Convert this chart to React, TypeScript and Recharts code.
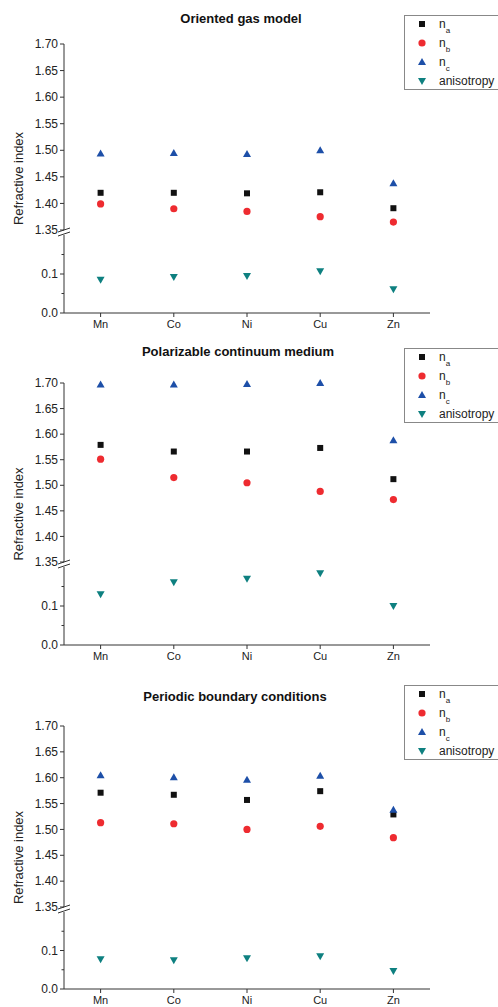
import React from 'react';
import { ScatterChart, Scatter, XAxis, YAxis } from 'recharts';

const categories = ['Mn', 'Co', 'Ni', 'Cu', 'Zn'];

const upperTicks = [1.35, 1.4, 1.45, 1.5, 1.55, 1.6, 1.65, 1.7];
const lowerTicks = [0, 0.05, 0.1, 0.15];
const lowerLabelled = [0, 0.1];

// Oriented gas model
const ogNa = [1.42, 1.42, 1.419, 1.421, 1.391];
const ogNb = [1.399, 1.39, 1.385, 1.375, 1.365];
const ogNc = [1.494, 1.495, 1.493, 1.5, 1.438];
const ogAniso = [0.085, 0.092, 0.095, 0.107, 0.061];

// Polarizable continuum medium
const pcmNa = [1.579, 1.566, 1.566, 1.573, 1.512];
const pcmNb = [1.551, 1.515, 1.505, 1.488, 1.472];
const pcmNc = [1.697, 1.697, 1.698, 1.7, 1.588];
const pcmAniso = [0.13, 0.161, 0.17, 0.184, 0.1];

// Periodic boundary conditions
const pbcNa = [1.571, 1.567, 1.557, 1.574, 1.529];
const pbcNb = [1.513, 1.511, 1.5, 1.506, 1.484];
const pbcNc = [1.605, 1.601, 1.596, 1.604, 1.538];
const pbcAniso = [0.077, 0.075, 0.08, 0.085, 0.047];

const COLORS = {
  na: '#111111',
  nb: '#ee2b30',
  nc: '#1d4fa8',
  aniso: '#0e8080',
};

const AXIS = '#333';
const W = 498;
const PH = 340;

type Kind = 'square' | 'circle' | 'up' | 'down';

function Marker({ kind, cx, cy, color }: { kind: Kind; cx: number; cy: number; color: string }) {
  if (kind === 'square') return <rect x={cx - 3} y={cy - 3} width={6} height={6} fill={color} />;
  if (kind === 'circle') return <circle cx={cx} cy={cy} r={3.6} fill={color} />;
  if (kind === 'up')
    return <polygon points={`${cx - 4},${cy + 3} ${cx + 4},${cy + 3} ${cx},${cy - 4}`} fill={color} />;
  return <polygon points={`${cx - 4},${cy - 3} ${cx + 4},${cy - 3} ${cx},${cy + 4}`} fill={color} />;
}

const shape = (kind: Kind, color: string) => (props: any) =>
  <Marker kind={kind} cx={props.cx} cy={props.cy} color={color} />;

const toRows = (vals: number[]) => vals.map((y, i) => ({ x: i, y }));

function UpperTick(props: any) {
  const { x, y, payload } = props;
  const ax = x + 6;
  const v = payload.value as number;
  return (
    <g>
      <line x1={ax - 4} y1={y} x2={ax} y2={y} stroke={AXIS} />
      <text x={x} y={y} dy="0.35em" textAnchor="end" fontSize={12} fill="#222">
        {v.toFixed(2)}
      </text>
      {v === 1.35 && (
        <g stroke={AXIS} strokeWidth={1}>
          <line x1={ax - 6} y1={y + 2} x2={ax + 6} y2={y - 2} />
          <line x1={ax - 6} y1={y + 6} x2={ax + 6} y2={y + 2} />
        </g>
      )}
    </g>
  );
}

function LowerTick(props: any) {
  const { x, y, payload } = props;
  const ax = x + 6;
  const v = payload.value as number;
  const major = lowerLabelled.includes(v);
  return (
    <g>
      <line x1={ax - (major ? 4 : 2.5)} y1={y} x2={ax} y2={y} stroke={AXIS} />
      {major && (
        <text x={x} y={y} dy="0.35em" textAnchor="end" fontSize={12} fill="#222">
          {v.toFixed(1)}
        </text>
      )}
    </g>
  );
}

interface PanelProps {
  top: number;
  title: string;
  titleX: number;
  titleY: number;
  upTop: number;
  upBottom: number;
  lowTop: number;
  lowBottom: number;
  legendTop: number;
  na: number[];
  nb: number[];
  nc: number[];
  aniso: number[];
}

const legendItems: { kind: Kind; color: string; main: string; sub?: string }[] = [
  { kind: 'square', color: COLORS.na, main: 'n', sub: 'a' },
  { kind: 'circle', color: COLORS.nb, main: 'n', sub: 'b' },
  { kind: 'up', color: COLORS.nc, main: 'n', sub: 'c' },
  { kind: 'down', color: COLORS.aniso, main: 'anisotropy' },
];

function Panel(p: PanelProps) {
  const xAxisProps = {
    type: 'number' as const,
    dataKey: 'x',
    domain: [-0.5, 4.5],
    ticks: [0, 1, 2, 3, 4],
    allowDataOverflow: true,
  };
  return (
    <div style={{ position: 'absolute', left: 0, top: p.top, width: W, height: PH }}>
      <div style={{ position: 'absolute', left: 0, top: 0 }}>
        <ScatterChart
          width={W}
          height={PH}
          margin={{ top: p.upTop, right: 68, bottom: PH - p.upBottom, left: 0 }}
        >
          <XAxis {...xAxisProps} hide />
          <YAxis
            type="number"
            dataKey="y"
            width={64}
            domain={[1.35, 1.7]}
            ticks={upperTicks}
            interval={0}
            tickSize={4}
            tickMargin={2}
            tickLine={false}
            axisLine={{ stroke: AXIS }}
            tick={<UpperTick />}
          />
          <Scatter data={toRows(p.na)} shape={shape('square', COLORS.na)} isAnimationActive={false} />
          <Scatter data={toRows(p.nb)} shape={shape('circle', COLORS.nb)} isAnimationActive={false} />
          <Scatter data={toRows(p.nc)} shape={shape('up', COLORS.nc)} isAnimationActive={false} />
        </ScatterChart>
      </div>
      <div style={{ position: 'absolute', left: 0, top: 0 }}>
        <ScatterChart
          width={W}
          height={PH}
          margin={{ top: p.lowTop, right: 68, bottom: PH - p.lowBottom - 24, left: 0 }}
        >
          <XAxis
            {...xAxisProps}
            height={24}
            tickSize={4}
            tickMargin={3}
            stroke={AXIS}
            tick={{ fontSize: 11, fill: '#222' }}
            tickFormatter={(i: number) => categories[i]}
          />
          <YAxis
            type="number"
            dataKey="y"
            width={64}
            domain={[0, 0.2]}
            ticks={lowerTicks}
            interval={0}
            tickSize={4}
            tickMargin={2}
            tickLine={false}
            axisLine={{ stroke: AXIS }}
            tick={<LowerTick />}
          />
          <Scatter data={toRows(p.aniso)} shape={shape('down', COLORS.aniso)} isAnimationActive={false} />
        </ScatterChart>
      </div>
      <svg
        width={W}
        height={PH}
        style={{ position: 'absolute', left: 0, top: 0, pointerEvents: 'none' }}
      >
        <text x={p.titleX} y={p.titleY} dy="0.35em" textAnchor="middle" fontSize={13} fontWeight="bold" fill="#111">
          {p.title}
        </text>
        <text
          transform={`translate(18, ${(p.upTop + p.lowBottom) / 2}) rotate(-90)`}
          dy="0.35em"
          textAnchor="middle"
          fontSize={13}
          fill="#222"
        >
          Refractive index
        </text>
        <g transform={`translate(404, ${p.legendTop})`}>
          <rect x={0.5} y={0.5} width={110} height={74} fill="#fff" stroke="#888" />
          {legendItems.map((it, i) => {
            const cy = 9 + i * 19;
            return (
              <g key={it.main + (it.sub || '')}>
                <Marker kind={it.kind} cx={18} cy={cy} color={it.color} />
                <text x={35} y={cy} dy="0.35em" fontSize={12} fill="#222">
                  {it.main}
                  {it.sub && (
                    <tspan fontSize={8} dy={5}>
                      {it.sub}
                    </tspan>
                  )}
                </text>
              </g>
            );
          })}
        </g>
      </svg>
    </div>
  );
}

export default function App() {
  return (
    <div
      style={{
        position: 'absolute',
        left: 0,
        top: 0,
        width: W,
        height: 1007,
        overflow: 'hidden',
        background: '#fff',
        fontFamily: '"Liberation Sans", Arial, sans-serif',
      }}
    >
      <Panel
        top={0}
        title="Oriented gas model"
        titleX={241}
        titleY={18}
        upTop={44}
        upBottom={230}
        lowTop={235}
        lowBottom={313}
        legendTop={15}
        na={ogNa}
        nb={ogNb}
        nc={ogNc}
        aniso={ogAniso}
      />
      <Panel
        top={330}
        title="Polarizable continuum medium"
        titleX={238}
        titleY={21}
        upTop={53}
        upBottom={232}
        lowTop={237}
        lowBottom={315}
        legendTop={18}
        na={pcmNa}
        nb={pcmNb}
        nc={pcmNc}
        aniso={pcmAniso}
      />
      <Panel
        top={670}
        title="Periodic boundary conditions"
        titleX={235}
        titleY={26}
        upTop={56}
        upBottom={237}
        lowTop={242}
        lowBottom={319}
        legendTop={15}
        na={pbcNa}
        nb={pbcNb}
        nc={pbcNc}
        aniso={pbcAniso}
      />
    </div>
  );
}
